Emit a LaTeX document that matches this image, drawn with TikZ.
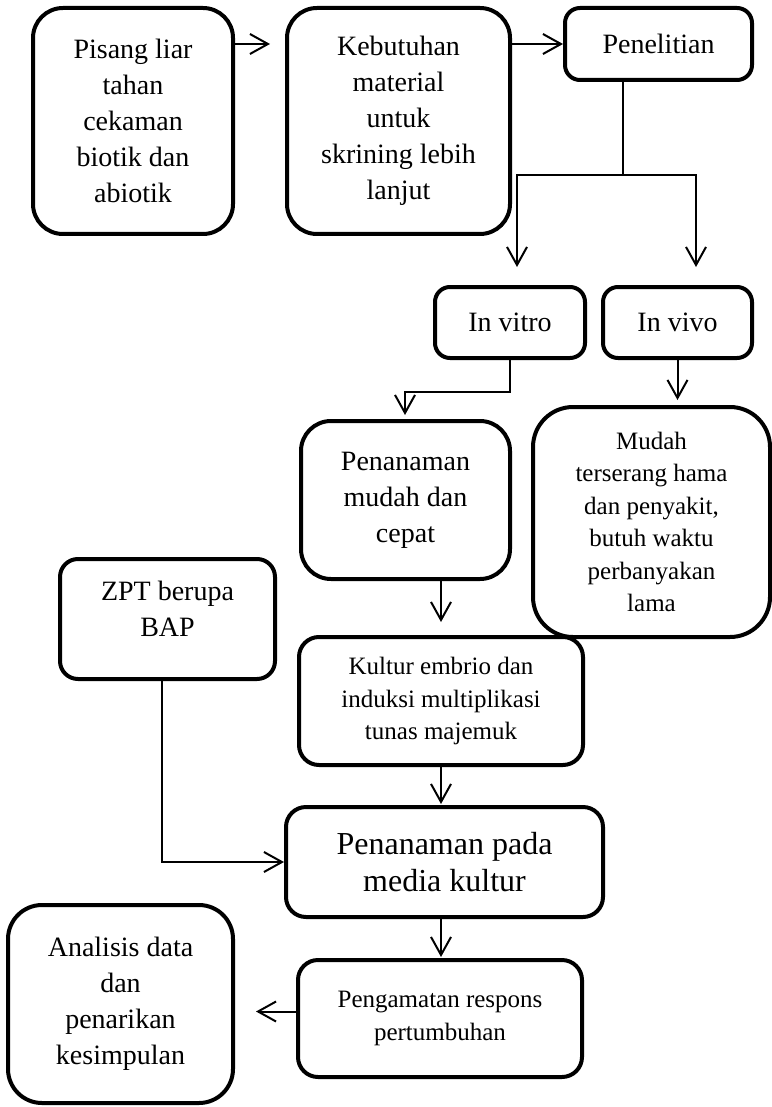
\documentclass[tikz,border=0pt]{standalone}
\usepackage{fontspec}
\setmainfont{Liberation Serif}
\usetikzlibrary{arrows.meta,positioning}

\begin{document}
\begin{tikzpicture}[
  x=0.5pt, y=-0.5pt,
  blk/.style={draw, line width=2pt, align=center, inner sep=0pt, rounded corners=#1},
  blk/.default=10pt,
  sm/.style={font=\fontsize{12.5}{16.25}\selectfont},
  md/.style={font=\fontsize{14}{18}\selectfont},
  lg/.style={font=\fontsize{16}{18.5}\selectfont},
  flow/.style={-{Straight Barb[length=9pt,width=10pt]}, line width=1pt},
  ln/.style={line width=1pt}
]
\useasboundingbox (0,0) rectangle (771,1107);

% top row
\node[blk=15pt, md, minimum width=100pt, minimum height=113pt] (pisang) at (133,121) {Pisang liar\\tahan\\cekaman\\biotik dan\\abiotik};
\node[blk=15pt, md, minimum width=111.5pt, minimum height=113pt] (butuh) at (398.5,121) {Kebutuhan\\material\\untuk\\skrining lebih\\lanjut};
\node[blk=7.5pt, md, minimum width=93.5pt, minimum height=36pt] (teliti) at (658.5,44) {Penelitian};
\draw[flow] (pisang.east |- teliti.west) -- ([xshift=-7.5pt]butuh.west |- teliti.west);
\draw[flow] (butuh.east |- teliti.west) -- (teliti.west);

% in vitro / in vivo
\node[blk=7.5pt, md, minimum width=75pt, minimum height=35.5pt] (vitro) at (510,322.5) {In vitro};
\node[blk=7.5pt, md, minimum width=74.5pt, minimum height=35.5pt] (vivo) at (677.5,322.5) {In vivo};
\coordinate (cabang) at (623,175);
\coordinate (kevitro) at (517,267);
\coordinate (kevivo) at (696,267);
\draw[ln] (teliti.south -| cabang) -- (cabang);
\draw[flow] (cabang) -| (kevitro);
\draw[flow] (cabang) -| (kevivo);

% outcomes
\node[blk=15pt, md, minimum width=104.5pt, minimum height=79pt] (cepat) at (405.5,500) {Penanaman\\mudah dan\\cepat};
\node[blk=20pt, sm, minimum width=118.5pt, minimum height=115pt] (hama) at (651.5,522) {Mudah\\terserang hama\\dan penyakit,\\butuh waktu\\perbanyakan\\lama};
\coordinate (kecepat) at (405,415);
\draw[flow] (vitro.south) -- ++(0,32) -| (kecepat);
\draw[flow] (vivo.south) -- ++(0,40);

% culture steps
\node[blk=9pt, md, text depth=10pt, minimum width=107.5pt, minimum height=60pt] (zpt) at (167.5,619) {ZPT berupa\\BAP};
\node[blk=10pt, sm, minimum width=142pt, minimum height=64pt] (kultur) at (441,701) {Kultur embrio dan\\induksi multiplikasi\\tunas majemuk};
\node[blk=10pt, lg, minimum width=158.5pt, minimum height=55pt] (media) at (444.5,862) {Penanaman pada\\media kultur};
\node[blk=10pt, sm, minimum width=142pt, minimum height=58.5pt] (amati) at (440,1018.5) {Pengamatan respons\\pertumbuhan};
\node[blk=17pt, md, minimum width=112.5pt, minimum height=99pt] (analisis) at (120.5,1004) {Analisis data\\dan\\penarikan\\kesimpulan};
\draw[flow] (cepat.south -| kultur.north) -- ++(0,41);
\draw[flow] (kultur.south) -- ++(0,37);
\draw[flow] (media.south -| kultur.south) -- ++(0,38);
\draw[flow] ([xshift=-2.75pt]zpt.south) |- (media.west);
\draw[flow] ([yshift=3.5pt]amati.west) -- ++(-40,0);
\end{tikzpicture}
\end{document}
